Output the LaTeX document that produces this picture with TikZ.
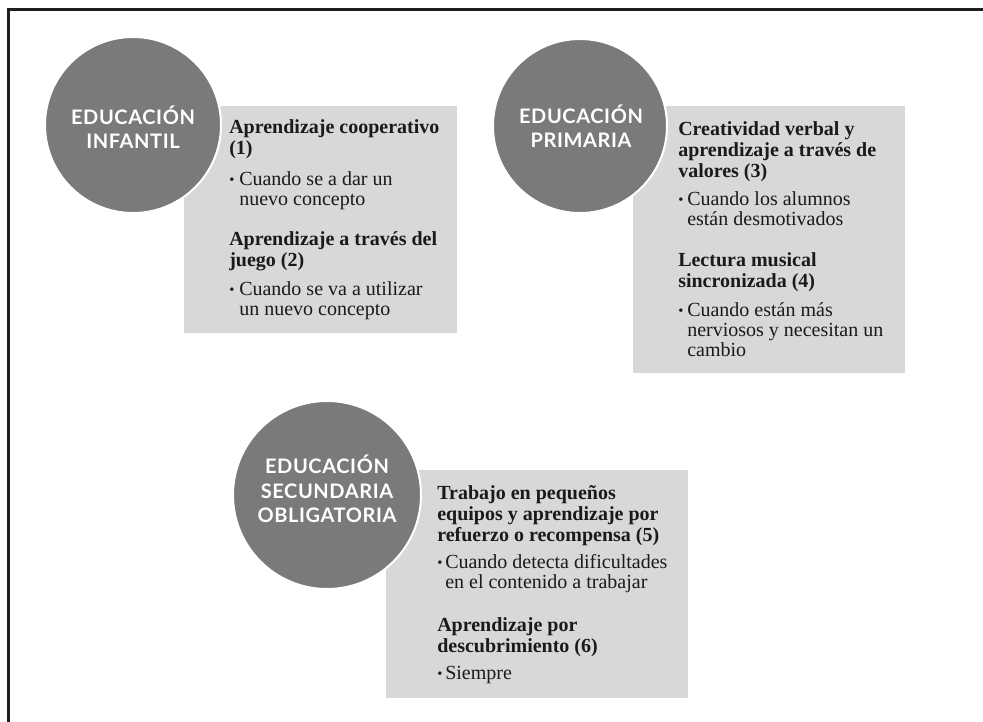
\documentclass[tikz,border=0pt]{standalone}
\usepackage{fontspec}
\setmainfont{Liberation Serif}
\newfontfamily\circfont[LetterSpace=3]{Lato}
\definecolor{circgray}{HTML}{7A7A7C}
\definecolor{boxgray}{HTML}{D8D8D8}
\definecolor{framec}{HTML}{1E1E1E}
\definecolor{txt}{HTML}{1A1A1A}
\newcommand{\tlines}[1]{\begin{tabular}[t]{@{}l@{}}#1\end{tabular}}
\tikzset{
  frameline/.style={draw=framec, line width=2.25pt},
  boxbg/.style={fill=boxgray, draw=none, inner sep=0, anchor=north west},
  circ/.style={circle, fill=circgray, draw=white, line width=1.5pt, inner sep=0},
  ctext/.style={text=white, align=center, inner sep=0,
    font=\circfont\bfseries\fontsize{15}{18.4}\selectfont},
  hd/.style={anchor=base west, inner sep=0, text=txt,
    font=\bfseries\fontsize{15}{16}\selectfont},
  bt/.style={anchor=base west, inner sep=0, text=txt,
    font=\fontsize{15}{15.3}\selectfont},
  bul/.style={anchor=base west, inner sep=0, text=txt,
    font=\fontsize{11}{11}\selectfont},
}
\begin{document}
\begin{tikzpicture}[x=0.75pt,y=-0.75pt]
\useasboundingbox (0,0) rectangle (983,722);
% frame
\coordinate (fbl) at (8,722);
\coordinate (ftl) at (8,9);
\coordinate (ftr) at (983,9);
\draw[frameline] (fbl) -- (ftl) -- (ftr);

% boxes
\node[boxbg, minimum width=204.75pt, minimum height=170.25pt] (b1) at (184,106) {};
\node[boxbg, minimum width=204pt, minimum height=200.25pt] (b2) at (633,106) {};
\node[boxbg, minimum width=226.5pt, minimum height=171pt] (b3) at (386,470) {};

% circles
\node[circ, minimum size=132pt] (c1) at (133,125) {};
\node[circ, minimum size=130.5pt] (c2) at (580,126) {};
\node[circ, minimum size=141pt] (c3) at (327,495) {};

\node[ctext] (c1t) at (133,127) {EDUCACIÓN\\INFANTIL};
\node[ctext] (c2t) at (581,126) {EDUCACIÓN\\PRIMARIA};
\node[ctext] (c3t) at (327,489) {EDUCACIÓN\\SECUNDARIA\\OBLIGATORIA};

% box 1 text
\node[hd] (h1) at (229,133) {\tlines{Aprendizaje cooperativo\\(1)}};
\node[bul] (u1) at (229,184) {•};
\node[bt] (t1) at (239,185) {\tlines{Cuando se a dar un\\nuevo concepto}};
\node[hd] (h2) at (229,245) {\tlines{Aprendizaje a través del\\juego (2)}};
\node[bul] (u2) at (229,294) {•};
\node[bt] (t2) at (239,295) {\tlines{Cuando se va a utilizar\\un nuevo concepto}};

% box 2 text
\node[hd] (h3) at (678,135) {\tlines{Creatividad verbal y\\aprendizaje a través de\\valores (3)}};
\node[bul] (u3) at (678,204) {•};
\node[bt] (t3) at (687,205) {\tlines{Cuando los alumnos\\están desmotivados}};
\node[hd] (h4) at (678,266) {\tlines{Lectura musical\\sincronizada (4)}};
\node[bul] (u4) at (678,315) {•};
\node[bt] (t4) at (687,316) {\tlines{Cuando están más\\nerviosos y necesitan un\\cambio}};

% box 3 text
\node[hd] (h5) at (437,499) {\tlines{Trabajo en pequeños\\equipos y aprendizaje por\\refuerzo o recompensa (5)}};
\node[bul] (u5) at (437,567) {•};
\node[bt] (t5) at (445,568) {\tlines{Cuando detecta dificultades\\en el contenido a trabajar}};
\node[hd] (h6) at (437,631) {\tlines{Aprendizaje por\\descubrimiento (6)}};
\node[bul] (u6) at (437,678) {•};
\node[bt] (t6) at (445,679) {\tlines{Siempre}};
\end{tikzpicture}
\end{document}
